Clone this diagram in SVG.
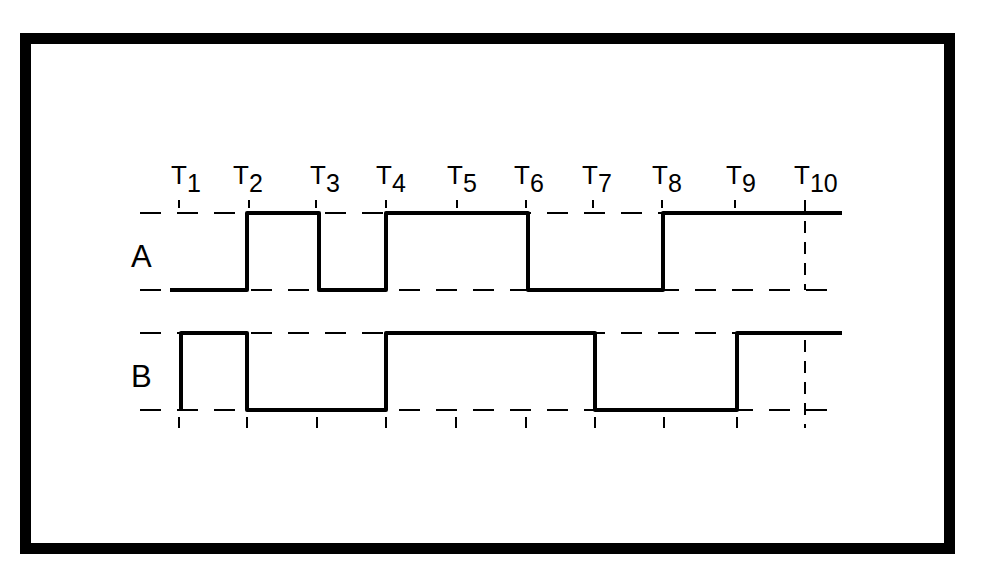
<svg xmlns="http://www.w3.org/2000/svg" width="992" height="576" viewBox="0 0 992 576">
<style>
.frame{fill:none;stroke:#000;stroke-width:11}
.dash{fill:none;stroke:#000;stroke-width:2;stroke-dasharray:21 16}
.vdash{fill:none;stroke:#000;stroke-width:2;stroke-dasharray:12 9}
.tick{stroke:#000;stroke-width:2}
.wave{fill:none;stroke:#000;stroke-width:4;stroke-linejoin:round}
.lbl{font-family:"Liberation Sans",Arial,sans-serif;font-size:26px;fill:#000}
.sub{font-size:25px}
.sig{font-family:"Liberation Sans",Arial,sans-serif;font-size:31px;fill:#000}
</style>
<rect class="frame" x="25.5" y="38.5" width="924" height="510"/>
<g id="labels">
<text class="lbl" x="171" y="184">T<tspan class="sub" dy="8">1</tspan></text>
<text class="lbl" x="233" y="184">T<tspan class="sub" dy="8">2</tspan></text>
<text class="lbl" x="310" y="184">T<tspan class="sub" dy="8">3</tspan></text>
<text class="lbl" x="376" y="184">T<tspan class="sub" dy="8">4</tspan></text>
<text class="lbl" x="447" y="184">T<tspan class="sub" dy="8">5</tspan></text>
<text class="lbl" x="514" y="184">T<tspan class="sub" dy="8">6</tspan></text>
<text class="lbl" x="582" y="184">T<tspan class="sub" dy="8">7</tspan></text>
<text class="lbl" x="652" y="184">T<tspan class="sub" dy="8">8</tspan></text>
<text class="lbl" x="726" y="184">T<tspan class="sub" dy="8">9</tspan></text>
<text class="lbl" x="794" y="184">T<tspan class="sub" dy="8">10</tspan></text>
</g>
<g id="signal-A">
<text class="sig" x="131" y="267">A</text>
</g>
<g id="signal-B">
<text class="sig" x="131" y="387">B</text>
</g>
<g id="connectors">
<line class="dash" x1="140" y1="213" x2="842" y2="213"/>
<line class="dash" x1="140" y1="290" x2="842" y2="290"/>
<line class="dash" x1="140" y1="333" x2="842" y2="333"/>
<line class="dash" x1="140" y1="410" x2="842" y2="410"/>
<line class="vdash" x1="805" y1="200" x2="805" y2="290"/>
<line class="vdash" x1="805" y1="340" x2="805" y2="428"/>
<g class="tick">
<line x1="179" y1="200" x2="179" y2="208"/>
<line x1="249" y1="200" x2="249" y2="208"/>
<line x1="316" y1="200" x2="316" y2="208"/>
<line x1="386" y1="200" x2="386" y2="208"/>
<line x1="457" y1="200" x2="457" y2="208"/>
<line x1="526" y1="200" x2="526" y2="208"/>
<line x1="593" y1="200" x2="593" y2="208"/>
<line x1="662" y1="200" x2="662" y2="208"/>
<line x1="735" y1="200" x2="735" y2="208"/>
<line x1="179" y1="417" x2="179" y2="428"/>
<line x1="247" y1="417" x2="247" y2="428"/>
<line x1="317" y1="417" x2="317" y2="428"/>
<line x1="386" y1="417" x2="386" y2="428"/>
<line x1="456" y1="417" x2="456" y2="428"/>
<line x1="526" y1="417" x2="526" y2="428"/>
<line x1="595" y1="417" x2="595" y2="428"/>
<line x1="664" y1="417" x2="664" y2="428"/>
<line x1="737" y1="417" x2="737" y2="428"/>
</g>
<path class="wave" d="M170,290 H247 V213 H319 V290 H386 V213 H528 V290 H663 V213 H842"/>
<path class="wave" d="M181,410 V333 H247 V410 H386 V333 H595 V410 H737 V333 H842"/>
</g>
</svg>
